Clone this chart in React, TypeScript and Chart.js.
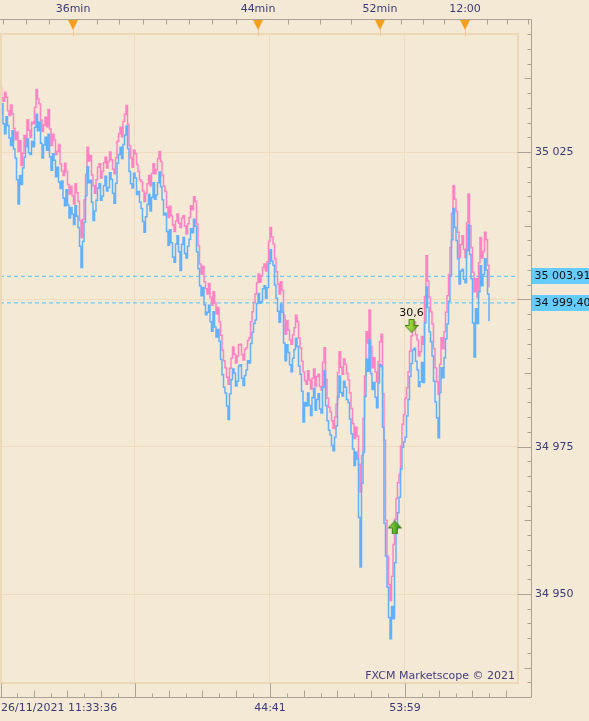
import React, { useEffect, useRef } from 'react';
import { Chart, registerables } from 'chart.js';
Chart.register(...registerables);

// Ask (pink) and Bid (blue) tick prices, one value per tick
const ask = [
  35036.0, 35034.2, 35033.6, 35035.1, 35034.3, 35032.0, 35031.2, 35033.0, 35031.5, 35029.0,
  35027.1, 35028.4, 35025.1, 35026.9, 35022.7, 35024.8, 35027.8, 35026.0, 35030.5, 35028.7,
  35027.5, 35030.1, 35029.8, 35032.6, 35035.6, 35034.0, 35033.2, 35030.4, 35028.5, 35029.6,
  35030.9, 35029.3, 35032.2, 35028.9, 35026.1, 35028.0, 35027.1, 35024.6, 35025.1, 35026.3,
  35023.0, 35021.8, 35021.0, 35023.1, 35021.7, 35019.5, 35017.9, 35019.2, 35017.6, 35016.2,
  35019.6, 35018.1, 35016.6, 35013.4, 35010.5, 35013.6, 35016.9, 35021.2, 35025.8, 35023.5,
  35024.4, 35021.1, 35019.3, 35018.0, 35020.3, 35022.4, 35023.0, 35020.6, 35021.7, 35023.2,
  35024.1, 35022.3, 35023.4, 35025.0, 35023.7, 35022.1, 35021.3, 35024.0, 35026.8, 35028.1,
  35029.2, 35027.6, 35030.2, 35031.4, 35032.9, 35029.7, 35026.1, 35024.0, 35022.4, 35025.3,
  35024.7, 35022.9, 35021.7, 35020.3, 35020.0, 35018.4, 35016.6, 35018.0, 35019.6, 35021.0,
  35019.3, 35021.4, 35023.0, 35021.3, 35022.0, 35023.9, 35025.1, 35023.4, 35021.0, 35019.2,
  35018.3, 35015.6, 35013.9, 35015.8, 35014.2, 35012.6, 35011.5, 35013.3, 35014.5, 35012.9,
  35012.2, 35013.8, 35014.2, 35012.4, 35011.1, 35012.8, 35013.9, 35015.9, 35015.2, 35017.4,
  35016.6, 35012.8, 35009.1, 35006.0, 35004.3, 35005.6, 35003.0, 35001.8, 35000.9, 35002.7,
  35000.3, 34999.0, 35001.3, 34999.4, 34997.5, 34998.6, 34996.2, 34993.9, 34991.4, 34989.6,
  34988.4, 34986.8, 34985.6, 34988.3, 34990.0, 34991.9, 34990.7, 34989.2, 34990.4, 34992.3,
  34992.4, 34990.6, 34989.7, 34991.5, 34991.8, 34993.0, 34993.5, 34996.2, 34997.9, 34999.5,
  35000.9, 35002.8, 35004.3, 35002.9, 35004.0, 35005.4, 35006.0, 35004.8, 35006.4, 35009.8,
  35012.2, 35010.6, 35009.4, 35006.9, 35004.7, 35002.6, 35000.9, 35003.0, 35001.6, 34997.3,
  34994.1, 34996.4, 34994.8, 34993.1, 34992.4, 34994.0, 34995.2, 34997.3, 34996.2, 34993.5,
  34991.8, 34989.5, 34987.7, 34986.2, 34985.6, 34987.9, 34986.3, 34984.8, 34986.6, 34988.2,
  34985.3, 34986.9, 34987.3, 34985.2, 34984.6, 34989.3, 34991.8, 34986.4, 34983.2, 34981.7,
  34980.9, 34979.4, 34978.1, 34980.0, 34982.2, 34987.6, 34991.1, 34988.5, 34987.3, 34989.9,
  34989.0, 34987.4, 34986.3, 34984.1, 34981.5, 34978.9, 34976.4, 34978.3, 34976.8, 34972.0,
  34967.3, 34973.5, 34979.8, 34987.0, 34994.5, 34992.6, 34998.2, 34992.0, 34988.4, 34990.1,
  34987.7, 34986.0, 34989.4, 34992.8, 34994.1, 34984.0, 34976.1, 34962.5, 34956.4, 34951.6,
  34948.9, 34953.0, 34958.4, 34962.7, 34966.2, 34968.9, 34970.3, 34975.1, 34978.8, 34980.4,
  34983.2, 34985.0, 34987.7, 34991.2, 34993.8, 34995.9, 34996.2, 34994.0, 34993.1, 34990.4,
  34991.1, 34993.7, 34992.4, 35000.5, 35007.4, 35003.1, 35000.3, 34997.9, 34995.8, 34991.6,
  34988.4, 34986.0, 34983.9, 34989.0, 34993.5, 34991.6, 34994.5, 34997.8, 35000.6, 35004.2,
  35008.8, 35014.6, 35019.3, 35017.0, 35014.9, 35011.4, 35007.1, 35009.3, 35010.8, 35008.5,
  35007.1, 35013.0, 35017.9, 35012.5, 35008.8, 35004.6, 35001.3, 35003.5, 35000.3, 35006.2,
  35010.5, 35007.0, 35008.1, 35011.4, 35010.1, 35005.8, 35002.0,
];
const bid = [
  35031.5, 35033.2, 35029.8, 35028.1, 35031.0, 35029.5, 35027.4, 35026.1, 35028.6, 35025.5,
  35024.0, 35020.3, 35016.2, 35021.0, 35019.5, 35022.3, 35024.1, 35025.9, 35027.2, 35024.9,
  35024.6, 35026.8, 35025.9, 35029.2, 35031.4, 35028.6, 35030.1, 35026.5, 35024.0, 35026.2,
  35027.5, 35025.3, 35028.0, 35024.2, 35021.9, 35024.7, 35023.6, 35020.8, 35022.4, 35019.9,
  35018.8, 35020.1, 35017.2, 35015.9, 35018.6, 35016.0, 35013.8, 35015.6, 35014.5, 35012.7,
  35015.9, 35014.1, 35012.2, 35009.0, 35005.4, 35009.8, 35013.1, 35017.6, 35022.5, 35019.8,
  35020.2, 35016.5, 35013.4, 35015.0, 35016.8, 35018.9, 35019.6, 35016.8, 35017.5, 35019.3,
  35020.9, 35018.4, 35019.0, 35021.5, 35020.4, 35018.0, 35016.3, 35019.7, 35023.1, 35024.6,
  35025.8, 35023.9, 35026.3, 35027.9, 35029.4, 35025.6, 35021.7, 35019.6, 35018.9, 35021.4,
  35020.6, 35017.8, 35018.3, 35016.5, 35015.4, 35013.2, 35011.4, 35014.0, 35016.1, 35017.8,
  35015.0, 35017.3, 35019.8, 35017.0, 35017.7, 35019.8, 35021.6, 35019.1, 35016.9, 35014.3,
  35014.6, 35011.5, 35009.2, 35011.8, 35009.6, 35007.2, 35006.3, 35009.4, 35010.8, 35008.1,
  35004.9, 35009.3, 35010.5, 35007.8, 35007.0, 35009.0, 35010.2, 35012.0, 35011.3, 35013.6,
  35012.4, 35008.1, 35005.2, 35002.3, 35000.6, 35002.0, 34999.1, 34997.4, 34997.8, 34999.0,
  34996.2, 34994.6, 34997.9, 34995.3, 34993.6, 34994.9, 34992.9, 34989.8, 34987.2, 34985.1,
  34984.1, 34981.9, 34979.6, 34984.0, 34986.4, 34988.2, 34987.5, 34985.3, 34986.1, 34988.7,
  34988.9, 34986.6, 34985.4, 34987.1, 34988.0, 34989.6, 34989.2, 34992.5, 34994.4, 34995.9,
  34996.5, 34999.3, 35001.0, 34999.4, 34999.6, 35001.8, 35002.3, 35000.2, 35002.0, 35006.1,
  35008.4, 35006.5, 35005.8, 35002.4, 35000.2, 34998.0, 34996.1, 34999.2, 34997.8, 34992.6,
  34989.6, 34992.3, 34991.0, 34988.9, 34987.7, 34990.0, 34991.5, 34993.4, 34992.0, 34988.7,
  34987.3, 34984.4, 34979.2, 34982.5, 34981.9, 34984.1, 34982.0, 34980.3, 34983.3, 34984.9,
  34981.2, 34983.0, 34984.0, 34981.4, 34980.7, 34985.1, 34987.9, 34982.0, 34979.4, 34977.8,
  34977.0, 34975.2, 34974.3, 34976.6, 34978.5, 34983.4, 34987.0, 34984.2, 34983.6, 34986.1,
  34985.1, 34983.0, 34982.5, 34979.7, 34977.2, 34974.6, 34971.8, 34974.1, 34972.9, 34963.0,
  34954.6, 34968.8, 34974.0, 34983.5, 34989.9, 34987.8, 34993.1, 34987.4, 34984.7, 34985.9,
  34983.4, 34981.6, 34985.8, 34989.0, 34988.6, 34978.3, 34962.0, 34956.4, 34951.2, 34946.0,
  34942.4, 34947.9, 34945.8, 34955.3, 34961.0, 34963.8, 34966.4, 34971.2, 34974.9, 34975.8,
  34976.6, 34980.2, 34983.0, 34986.9, 34989.1, 34991.4, 34991.7, 34989.5, 34988.0, 34985.2,
  34986.0, 34989.3, 34985.9, 34996.0, 35002.1, 34998.6, 34994.5, 34992.8, 34990.4, 34986.1,
  34982.6, 34979.9, 34976.5, 34984.2, 34988.4, 34986.7, 34990.1, 34993.3, 34995.8, 34999.7,
  35004.0, 35010.1, 35015.4, 35012.2, 35010.0, 35006.9, 35002.6, 35004.8, 35005.1, 35003.4,
  35002.8, 35008.3, 35012.6, 35007.6, 35003.5, 34996.0, 34990.2, 34998.4, 34995.9, 35001.3,
  35005.7, 35002.3, 35004.2, 35006.9, 35005.0, 35000.9, 34996.3,
];

const levelValues = [35003.91, 34999.40];
const yTickValues = [34950, 34975, 35000, 35025];
const bottomTickValues = [0, 90, 180, 270];
const bottomTickLabels = ['26/11/2021 11:33:36', '', '44:41', '53:59'];
const topMajorValues = [48.67, 172, 253.33, 310];
const topMajorLabels = ['36min', '44min', '52min', '12:00'];
const topMinorValues = [2, 17.33, 32.67, 64.67, 79.33, 95.33, 110.67, 126, 141.33, 157.33, 192, 213.33, 234, 267.33, 282, 296, 324.67, 338, 352];
const tradeX = [274.4, 263.2];
const tradeY = [34995.5, 34961.3];
const tradeDir = ['down', 'up'];
const tradeLabel = ['30,6', ''];
const watermark = 'FXCM Marketscope © 2021';

const X_MAX = 344.67;
const Y_MIN = 34934.9;
const Y_MAX = 35045.2;
const Y_MINOR_STEP = 2.5;
const X_MINOR_DIV = 8;

const BG = '#f3e9d5';
const GRID = '#eedcbe';
const BORDER = '#ecd8b6';
const AXIS = '#aaa294';
const TEXT = '#3d3a78';
const PINK = '#ff82c4';
const BLUE = '#62b1ff';
const LEVEL = '#4cc4ff';
const FONT = "11px 'DejaVu Sans'";

const fmtInt = (v: number) => Math.round(v).toString().replace(/\B(?=(\d{3})+(?!\d))/g, ' ');
const fmtDec = (v: number) => {
  const [i, d] = v.toFixed(2).split('.');
  return fmtInt(+i) + ',' + d;
};

function makeArrow(dir: string): HTMLCanvasElement {
  const c = document.createElement('canvas');
  c.width = 14;
  c.height = 14;
  const g = c.getContext('2d') as CanvasRenderingContext2D;
  g.beginPath();
  if (dir === 'down') {
    g.moveTo(4.5, 0.5); g.lineTo(9.5, 0.5); g.lineTo(9.5, 6.5); g.lineTo(13.5, 6.5);
    g.lineTo(7, 13.5); g.lineTo(0.5, 6.5); g.lineTo(4.5, 6.5);
  } else {
    g.moveTo(4.5, 13.5); g.lineTo(9.5, 13.5); g.lineTo(9.5, 7.5); g.lineTo(13.5, 7.5);
    g.lineTo(7, 0.5); g.lineTo(0.5, 7.5); g.lineTo(4.5, 7.5);
  }
  g.closePath();
  const grad = g.createLinearGradient(0, 0, 14, 0);
  if (dir === 'down') {
    grad.addColorStop(0, '#c8ec6a');
    grad.addColorStop(0.5, '#94cf34');
    grad.addColorStop(1, '#5e9e18');
  } else {
    grad.addColorStop(0, '#a6e060');
    grad.addColorStop(0.5, '#5cb42a');
    grad.addColorStop(1, '#2f7e10');
  }
  g.fillStyle = grad;
  g.fill();
  g.strokeStyle = '#3f7a12';
  g.lineWidth = 1;
  g.stroke();
  return c;
}

const decorPlugin = {
  id: 'decor',
  afterDraw(chart: any) {
    const ctx = chart.ctx as CanvasRenderingContext2D;
    const xs = chart.scales.x;
    const ys = chart.scales.y;
    const ca = chart.chartArea;
    const topY = Math.round(ca.top - 14) + 0.5;
    const rightX = Math.round(ca.right + 14) + 0.5;
    const bottomY = Math.round(ca.bottom + 14) + 0.5;
    ctx.save();

    // plot frame
    ctx.strokeStyle = BORDER;
    ctx.lineWidth = 2;
    ctx.strokeRect(ca.left + 1, ca.top + 1, ca.right - ca.left, ca.bottom - ca.top - 1);

    // axis lines
    ctx.strokeStyle = AXIS;
    ctx.lineWidth = 1;
    ctx.beginPath();
    ctx.moveTo(0, topY); ctx.lineTo(rightX, topY);
    ctx.lineTo(rightX, bottomY); ctx.lineTo(0, bottomY);
    ctx.stroke();

    // top ticks
    ctx.beginPath();
    topMinorValues.forEach((v) => {
      const px = Math.round(xs.getPixelForValue(v)) + 0.5;
      ctx.moveTo(px, topY); ctx.lineTo(px, topY + 5);
    });
    ctx.stroke();

    // right ticks
    ctx.beginPath();
    const startV = Math.ceil(Y_MIN / Y_MINOR_STEP) * Y_MINOR_STEP;
    for (let v = startV; v <= Y_MAX; v += Y_MINOR_STEP) {
      const py = Math.round(ys.getPixelForValue(v)) + 0.5;
      const len = Math.abs(v % 25) < 1e-6 ? 14 : Math.abs(v % 12.5) < 1e-6 ? 7 : 4;
      ctx.moveTo(rightX - len, py); ctx.lineTo(rightX, py);
    }
    ctx.stroke();

    // bottom ticks
    ctx.beginPath();
    const step = (bottomTickValues[1] - bottomTickValues[0]) / X_MINOR_DIV;
    for (let k = 0; k * step <= X_MAX + 2; k++) {
      const px = Math.max(Math.round(xs.getPixelForValue(k * step)) + 0.5, 1.5);
      const len = k % X_MINOR_DIV === 0 ? 14 : k % 2 === 0 ? 7 : 4;
      ctx.moveTo(px, bottomY); ctx.lineTo(px, bottomY - len);
    }
    ctx.stroke();

    // top markers + labels
    ctx.font = FONT;
    ctx.textBaseline = 'middle';
    topMajorValues.forEach((v, i) => {
      const px = xs.getPixelForValue(v);
      ctx.strokeStyle = '#f6c98a';
      ctx.beginPath();
      ctx.moveTo(Math.round(px) + 0.5, topY + 10); ctx.lineTo(Math.round(px) + 0.5, ca.top + 3);
      ctx.stroke();
      ctx.fillStyle = '#f5a01c';
      ctx.beginPath();
      ctx.moveTo(px - 5, topY + 0.5);
      ctx.lineTo(px + 5, topY + 0.5);
      ctx.lineTo(px, topY + 10.5);
      ctx.closePath();
      ctx.fill();
      ctx.fillStyle = TEXT;
      ctx.textAlign = 'center';
      ctx.fillText(topMajorLabels[i], px, 9);
    });

    // bottom labels
    bottomTickValues.forEach((v, i) => {
      const lab = bottomTickLabels[i];
      if (!lab) return;
      const px = xs.getPixelForValue(v);
      ctx.textAlign = i === 0 ? 'left' : 'center';
      ctx.fillStyle = TEXT;
      ctx.fillText(lab, i === 0 ? px + 1 : px, bottomY + 11);
    });

    // level boxes
    levelValues.forEach((v) => {
      const py = Math.round(ys.getPixelForValue(v));
      ctx.fillStyle = '#66ccff';
      ctx.fillRect(rightX + 0.5, py - 8, chart.width - rightX, 16);
      ctx.fillStyle = '#111111';
      ctx.textAlign = 'left';
      ctx.fillText(fmtDec(v), rightX + 3, py + 0.5);
    });

    // trade labels
    tradeLabel.forEach((lab, i) => {
      if (!lab) return;
      const px = xs.getPixelForValue(tradeX[i]);
      const py = ys.getPixelForValue(tradeY[i]);
      ctx.fillStyle = '#111111';
      ctx.textAlign = 'center';
      ctx.fillText(lab, px, py - 13);
    });

    // watermark
    ctx.fillStyle = '#473c80';
    ctx.textAlign = 'right';
    ctx.fillText(watermark, ca.right - 2, ca.bottom - 7);

    ctx.restore();
  },
};

export default function App() {
  const ref = useRef<HTMLCanvasElement | null>(null);

  useEffect(() => {
    document.body.style.margin = '0';
    document.body.style.background = BG;
    const canvas = ref.current;
    if (!canvas) return;
    const downImg = makeArrow('down');
    const upImg = makeArrow('up');
    const lineOf = (v: number) => [{ x: 0, y: v }, { x: X_MAX, y: v }];
    const chart = new Chart(canvas, {
      type: 'line',
      data: {
        datasets: [
          {
            type: 'scatter',
            label: 'trades',
            data: tradeX.map((x, i) => ({ x, y: tradeY[i] })),
            pointStyle: tradeDir.map((d) => (d === 'down' ? downImg : upImg)) as any,
            pointRadius: 7,
            order: 0,
          } as any,
          {
            label: 'Bid',
            data: bid.map((v, i) => ({ x: i, y: v })),
            borderColor: BLUE,
            borderWidth: 1.5,
            stepped: true,
            pointRadius: 0,
            fill: false,
            order: 1,
          },
          {
            label: 'Ask',
            data: ask.map((v, i) => ({ x: i, y: v })),
            borderColor: PINK,
            borderWidth: 1.5,
            stepped: true,
            pointRadius: 0,
            fill: false,
            order: 2,
          },
          ...levelValues.map((v) => ({
            label: 'level',
            data: lineOf(v),
            borderColor: LEVEL,
            borderWidth: 1,
            borderDash: [4, 3],
            pointRadius: 0,
            fill: false,
            order: 3,
          })),
        ],
      },
      options: {
        responsive: false,
        animation: false,
        devicePixelRatio: 1,
        layout: { autoPadding: false, padding: { left: 0, top: 33, right: 0, bottom: 0 } },
        plugins: { legend: { display: false }, tooltip: { enabled: false } },
        scales: {
          x: {
            type: 'linear',
            position: 'bottom',
            min: 0,
            max: X_MAX,
            afterBuildTicks: (s: any) => { s.ticks = bottomTickValues.map((v) => ({ value: v })); },
            afterFit: (s: any) => { s.height = 38; },
            grid: { color: GRID, drawTicks: false, lineWidth: 1 },
            border: { display: false },
            ticks: { display: false },
          },
          y: {
            type: 'linear',
            position: 'right',
            min: Y_MIN,
            max: Y_MAX,
            afterBuildTicks: (s: any) => { s.ticks = yTickValues.map((v) => ({ value: v })); },
            afterFit: (s: any) => { s.width = 72; },
            grid: { color: GRID, drawTicks: false, lineWidth: 1 },
            border: { display: false },
            ticks: {
              padding: 18,
              color: TEXT,
              font: { family: 'DejaVu Sans', size: 11 },
              callback: (v: any) => {
                const n = Number(v);
                return levelValues.some((l) => Math.abs(l - n) < 2) ? '' : fmtInt(n);
              },
            },
          },
        },
      } as any,
      plugins: [decorPlugin],
    });
    return () => chart.destroy();
  }, []);

  return (
    <div style={{ position: 'fixed', left: 0, top: 0, width: 589, height: 721, background: BG }}>
      <canvas ref={ref} width={589} height={721} style={{ display: 'block' }} />
    </div>
  );
}
